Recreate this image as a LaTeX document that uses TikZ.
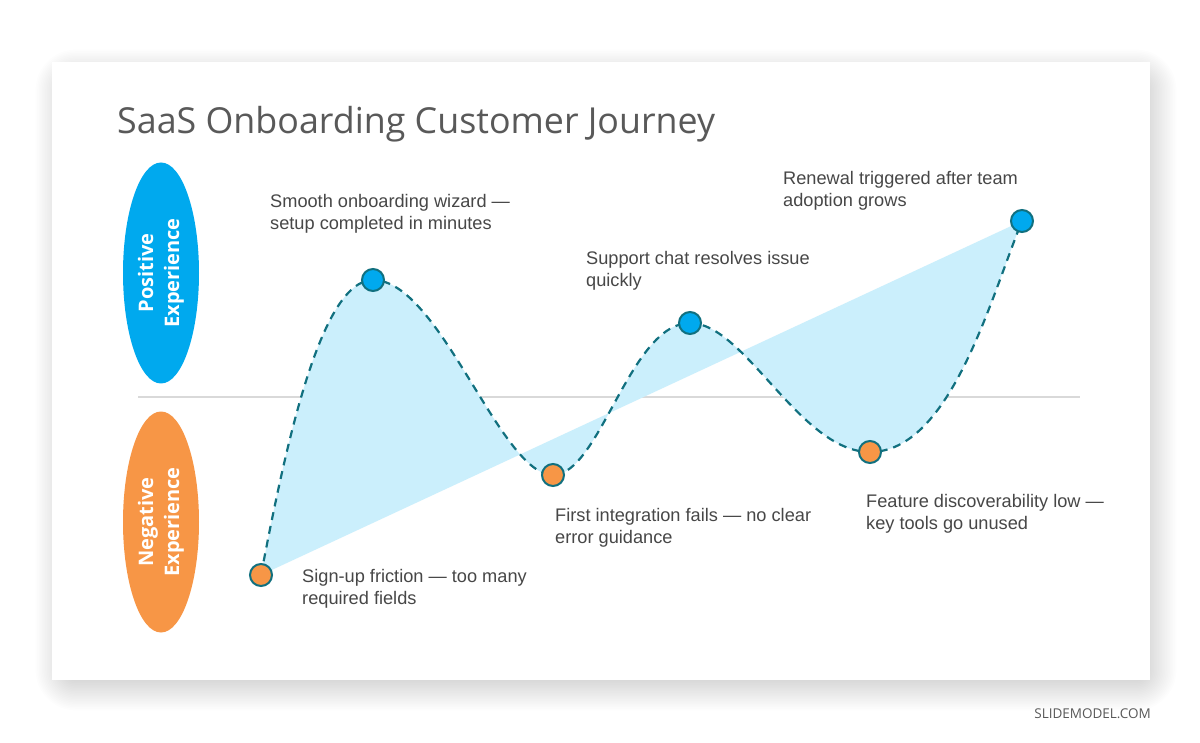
\documentclass[tikz,border=0pt]{standalone}
\usepackage{fontspec}
\setmainfont{Liberation Sans}
\newfontfamily\titlefont{Open Sans}
\usetikzlibrary{positioning, shapes.geometric}

\definecolor{posblue}{HTML}{00A9EE}
\definecolor{negorange}{HTML}{F79646}
\definecolor{curveteal}{HTML}{11707F}
\definecolor{areablue}{HTML}{CBEFFC}
\definecolor{axisgray}{HTML}{D9D9D9}
\definecolor{titlegray}{HTML}{595959}
\definecolor{textgray}{HTML}{474747}

\tikzset{
  moment/.style={circle, draw=curveteal, line width=2pt, minimum size=22pt, inner sep=0pt},
  good/.style={moment, fill=posblue},
  bad/.style={moment, fill=negorange},
  note/.style={anchor=west, align=left, inner sep=0pt, text=textgray,
    font=\fontsize{18.2}{22}\selectfont},
  badge/.style={ellipse, rotate=90, minimum width=221pt, minimum height=76pt,
    inner sep=0pt, text=white, align=center,
    font=\titlefont\bfseries\fontsize{20}{26}\selectfont}
}

\begin{document}
\begin{tikzpicture}[x=1pt, y=-1pt]
  \useasboundingbox[fill=white] (0,0) rectangle (1200,743);

  % slide card with soft shadow
  \foreach \k in {0,...,24} {
    \pgfmathsetmacro\grow{\k*1.6-18}
    \pgfmathsetmacro\rad{max(1,\grow+20)}
    \fill[black, opacity=0.009, rounded corners=\rad pt]
      (56-\grow, 70-\grow) rectangle (1156+\grow, 690+\grow);
  }
  \fill[white] (52,62) rectangle (1150,680);

  \node[anchor=base west, inner sep=0pt, text=titlegray,
    font=\titlefont\fontsize{35.8}{40}\selectfont] (title) at (117,134) {SaaS Onboarding Customer Journey};

  % axis and side badges
  \coordinate (axisL) at (138,397);
  \coordinate (axisR) at (1080,397);
  \draw[axisgray, line width=1.2pt] (axisL) -- (axisR);
  \node[badge, fill=posblue] (positive) at (161,273) {Positive\\Experience};
  \node[badge, fill=negorange] (negative) at (161,522) {Negative\\Experience};

  % journey points
  \coordinate (p1) at (261,575);
  \coordinate (p2) at (373,280);
  \coordinate (p3) at (553,475);
  \coordinate (p4) at (690,323);
  \coordinate (p5) at (870,452);
  \coordinate (p6) at (1022,221);

  \fill[areablue] (p1) .. controls (285,450) and (320,280) .. (p2)
    .. controls (440,280) and (500,475) .. (p3)
    .. controls (600,475) and (630,323) .. (p4)
    .. controls (745,323) and (800,452) .. (p5)
    .. controls (950,452) and (990,300) .. (p6) -- cycle;
  \draw[curveteal, line width=2.2pt, dash pattern=on 8pt off 6pt] (p1) .. controls (285,450) and (320,280) .. (p2)
    .. controls (440,280) and (500,475) .. (p3)
    .. controls (600,475) and (630,323) .. (p4)
    .. controls (745,323) and (800,452) .. (p5)
    .. controls (950,452) and (990,300) .. (p6);

  \node[bad] (signup) at (p1) {};
  \node[good] (wizard) at (p2) {};
  \node[bad] (integration) at (p3) {};
  \node[good] (support) at (p4) {};
  \node[bad] (discovery) at (p5) {};
  \node[good] (renewal) at (p6) {};

  % notes
  \node[note] (signupnote) at (302,589) {Sign-up friction --- too many\\required fields};
  \node[note] (wizardnote) at (270,214) {Smooth onboarding wizard ---\\setup completed in minutes};
  \node[note] (integrationnote) at (555,528) {First integration fails --- no clear\\error guidance};
  \node[note] (supportnote) at (586,271) {Support chat resolves issue\\quickly};
  \node[note] (discoverynote) at (866,514) {Feature discoverability low ---\\key tools go unused};
  \node[note] (renewalnote) at (783,191) {Renewal triggered after team\\adoption grows};

  \node[anchor=base east, inner sep=0pt, text=titlegray,
    font=\titlefont\fontsize{13.5}{15}\selectfont] (brand) at (1151,718) {SLIDEMODEL.COM};
\end{tikzpicture}
\end{document}
